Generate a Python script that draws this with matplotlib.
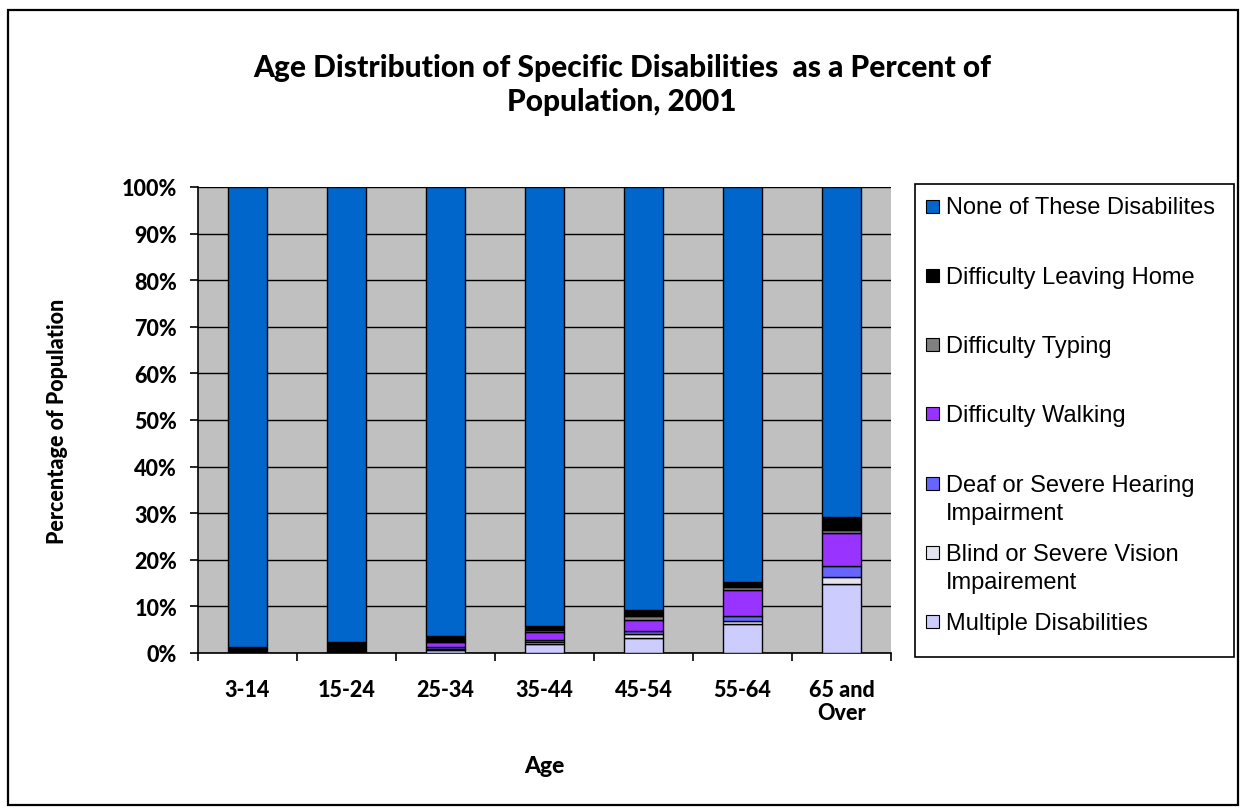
import numpy as np
import matplotlib
matplotlib.use("Agg")
import matplotlib.pyplot as plt
from matplotlib.patches import Rectangle
from matplotlib.ticker import PercentFormatter

plt.rcParams['font.family'] = ['Liberation Sans', 'DejaVu Sans']
HEAVY = ['Lato', 'DejaVu Sans']

ages = ['3-14', '15-24', '25-34', '35-44', '45-54', '55-64', '65 and\nOver']

# percent of population in each age group, bottom of the stack first
multiple = [0.0, 0.0, 0.6, 1.9, 3.2, 6.3, 14.9]
blind    = [0.0, 0.0, 0.3, 0.4, 0.9, 0.5, 1.4]
deaf     = [0.0, 0.0, 0.3, 0.4, 0.6, 1.2, 2.4]
walking  = [0.0, 0.0, 1.2, 1.8, 2.4, 5.6, 7.0]
typing   = [0.0, 0.0, 0.2, 0.5, 0.9, 0.5, 0.7]
leaving  = [1.3, 2.4, 1.0, 0.9, 1.2, 1.2, 2.7]

series = [
    ('Multiple Disabilities', multiple, '#ccccff'),
    ('Blind or Severe Vision\nImpairement', blind, '#e4e4f0'),
    ('Deaf or Severe Hearing\nImpairment', deaf, '#6666ff'),
    ('Difficulty Walking', walking, '#9933ff'),
    ('Difficulty Typing', typing, '#808080'),
    ('Difficulty Leaving Home', leaving, '#000000'),
]
total_dis = np.sum([s[1] for s in series], axis=0)
none = list(100 - total_dis)
series.append(('None of These Disabilites', none, '#0066cc'))

W, H = 1244, 812
fig = plt.figure(figsize=(W / 100, H / 100), dpi=100)


def px_rect(x0, y0, x1, y1, **kw):
    # rectangle given in pixel coords measured from the top-left corner
    r = Rectangle((x0 / W, 1 - y1 / H), (x1 - x0) / W, (y1 - y0) / H,
                  transform=fig.transFigure, **kw)
    fig.patches.append(r)
    return r


px_rect(8, 11, 1238, 806, fill=False, edgecolor='black', linewidth=1.6)

ax = fig.add_axes([198 / W, 1 - 654 / H, 693 / W, 466 / H])
ax.set_facecolor('#c0c0c0')

x = np.arange(len(ages))
bottom = np.zeros(len(ages))
for name, vals, col in series:
    ax.bar(x, vals, width=0.39, bottom=bottom, color=col,
           edgecolor='black', linewidth=1.0, zorder=3)
    bottom += np.array(vals)

ax.set_xlim(-0.5, len(ages) - 0.5)
ax.set_ylim(0, 100)
ax.set_yticks(np.arange(0, 101, 10))
ax.yaxis.set_major_formatter(PercentFormatter(decimals=0))
ax.yaxis.grid(True, color='black', linewidth=1.0, zorder=1)

ax.set_xticks(x)
ax.set_xticklabels(ages)
ax.set_xticks(np.arange(-0.5, len(ages), 1), minor=True)
ax.tick_params(axis='x', which='major', length=0, pad=19)
ax.tick_params(axis='x', which='minor', length=6, width=1.2, direction='out')
ax.tick_params(axis='y', length=6, width=1.2, direction='out', pad=9)
for lab in ax.get_xticklabels() + ax.get_yticklabels():
    lab.set_family(HEAVY)
    lab.set_fontsize(15.5)
    lab.set_fontweight('black')
for lab in ax.get_xticklabels():
    lab.set_linespacing(1.1)

for side in ['top', 'right']:
    ax.spines[side].set_visible(False)
ax.spines['left'].set_linewidth(1.2)
ax.spines['bottom'].set_linewidth(1.2)

ax.set_xlabel('Age', family=HEAVY, fontsize=16.5, fontweight='black', va='center')
ax.xaxis.set_label_coords(0.5, -(767 - 654) / 466)
ax.set_ylabel('Percentage of Population', family=HEAVY, fontsize=15.5,
              fontweight='black', va='center')
ax.yaxis.set_label_coords(-(198 - 58) / 693, 0.5)

fig.text(622 / W, 1 - 85 / H,
         'Age Distribution of Specific Disabilities  as a Percent of\nPopulation, 2001',
         ha='center', va='center', family=HEAVY, fontsize=21.5,
         fontweight='black', linespacing=1.3)

# legend box, top entry first
px_rect(915, 185, 1234, 658, facecolor='white', edgecolor='black',
        linewidth=1.2)
for i, (name, vals, col) in enumerate(series[::-1]):
    yy = 207 + 69.3 * i
    px_rect(926, yy - 6.5, 939, yy + 6.5, facecolor=col, edgecolor='black',
            linewidth=0.8)
    for k, line in enumerate(name.split('\n')):
        fig.text(946 / W, 1 - (yy + 7.5 + 28 * k) / H, line, ha='left',
                 va='baseline', fontsize=17)

fig.savefig('out.png', dpi=100)
